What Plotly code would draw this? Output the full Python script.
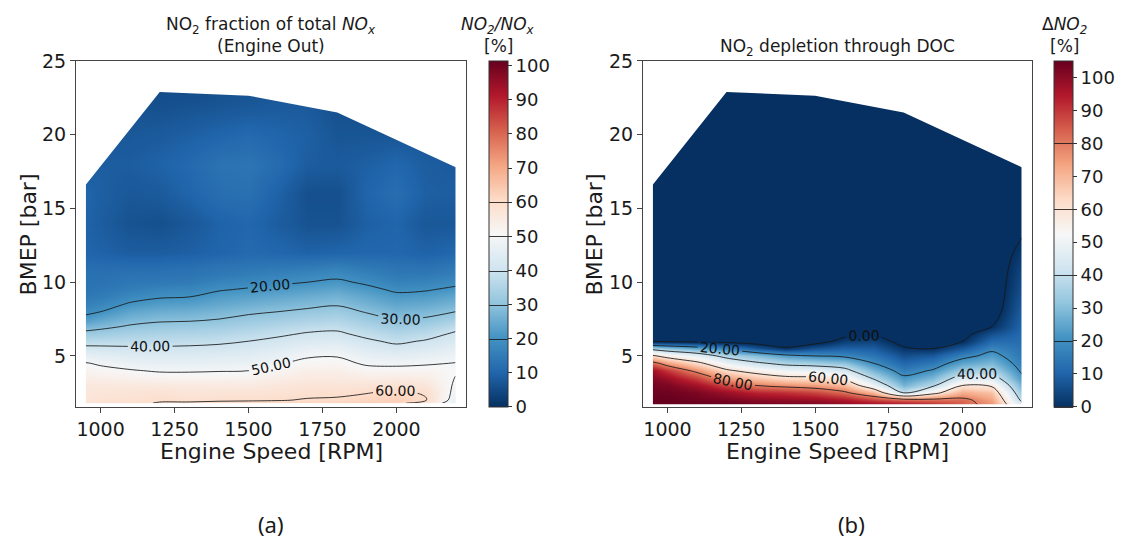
import plotly.graph_objects as go

# ---------------- data ----------------
# Engine speed columns [RPM] and BMEP rows [bar] of the measured map
rpm_a = [950, 1000, 1100, 1200, 1300, 1400, 1500, 1600, 1700, 1800, 1900, 2000, 2100, 2200]
bmep_a = [1.8, 2.0, 2.5, 3.0, 3.5, 4.0, 4.5, 5.0, 5.5, 6.0, 6.5, 7.0, 7.5, 8.0, 8.5,
          9.0, 9.5, 10.0, 10.5, 11.0, 12.0, 14.0, 16.0, 18.0, 20.0, 22.0, 23.0]

# NO2/NOx engine-out fraction [%], one list per engine speed (values along BMEP)
no2_frac = [
    [57, 57, 56.5, 56, 54.1, 52.2, 50.4, 46.4, 41.8, 37, 32, 27, 22, 18.5, 16, 14.4, 13.4, 13, 12.5, 12, 10, 9.5, 10, 8.5, 7.5, 7, 7],
    [58, 58, 57, 56, 53.9, 51.7, 49.2, 45.4, 41.5, 37.3, 32.7, 28.3, 24.2, 20, 17.5, 15, 14, 13, 12.5, 12, 9.5, 8.5, 9, 8.5, 7.5, 7, 7],
    [59, 58.5, 57.5, 56, 53.3, 50.5, 47.4, 44.2, 41, 37.6, 34.1, 30.7, 27.3, 24, 20.7, 18, 15.5, 14.2, 13, 12, 8.5, 6.5, 7.5, 8.5, 7.5, 6.5, 6],
    [60.3, 59.5, 58, 56, 52.7, 49.4, 46.6, 43.7, 40.9, 37.9, 34.8, 31.8, 28.8, 25.6, 22.5, 19.5, 17, 14.5, 13.2, 12, 8.5, 6, 8, 9.5, 8, 6, 5.5],
    [61, 58.5, 57, 55.5, 52.4, 49.4, 46.7, 43.9, 41.1, 38.2, 35.2, 32.1, 29.1, 26.1, 23, 20, 17.5, 15, 13.5, 12.5, 9, 7.5, 10, 11, 9, 6.5, 5.5],
    [61.5, 59.2, 57.5, 55.5, 52.6, 49.7, 47, 44.3, 41.6, 38.8, 35.9, 32.9, 30, 27.4, 24.7, 22.1, 19.5, 17, 14.5, 13.5, 10, 9.5, 12, 13, 10, 7, 6],
    [62, 59.3, 57.5, 55.5, 52.75, 50, 47.5, 45, 42.5, 40, 37.2, 34.4, 31.7, 28.9, 26.1, 23.3, 20.6, 18, 15.5, 14, 11, 10.5, 12.5, 13.5, 11, 7.5, 6.5],
    [62, 59.7, 58, 56.5, 54.2, 51.9, 49.5, 46.8, 44.2, 41.6, 38.8, 35.9, 32.9, 30, 27.2, 24.4, 21.7, 19, 16.5, 14.5, 10.5, 8.5, 9.5, 11.5, 10, 8, 7],
    [62.5, 60.4, 58.8, 57.5, 55.5, 53.6, 51.6, 49.4, 46.5, 43.5, 40.6, 37.5, 34.4, 31.3, 28.3, 25.6, 22.8, 20, 17.5, 15, 9.5, 6.5, 6, 8.5, 9, 8, 7],
    [62.5, 60.7, 59, 57.5, 55.6, 53.7, 51.7, 49.7, 46.9, 44, 41.1, 38.2, 35.3, 32.4, 29.4, 26.7, 23.9, 21.1, 18.5, 16, 10, 6.5, 6, 8, 7, 6, 6],
    [63, 61.8, 59.8, 57.5, 54.7, 51.9, 49.2, 46.5, 43.8, 41.1, 38.2, 35.3, 32.4, 29.5, 26.8, 24.2, 21.6, 19, 16.5, 14.5, 10.5, 9, 10, 9, 7, 6, 6],
    [62, 63, 61, 58.5, 55.2, 52, 48.7, 45.3, 42, 38.75, 35.6, 32.5, 29.5, 26.8, 24.2, 21.6, 19, 16.5, 14.5, 13.5, 10.5, 10, 12, 10.5, 7, 6, 6],
    [56, 60.3, 59.5, 57, 54.5, 52, 49.4, 46.5, 43.5, 40.6, 37.3, 34, 30.7, 27.8, 25, 22.2, 19.5, 17, 14.5, 13, 9.5, 7.5, 9, 8.5, 7.5, 7, 7],
    [45, 46.5, 48, 49, 49.8, 50.5, 50.2, 48.1, 45.7, 43.3, 41, 37.7, 33.8, 30, 27.1, 24.1, 21.2, 18.5, 16, 14.5, 10.5, 7.5, 8.5, 8, 7.5, 7, 7],
]

rpm_b = [950, 1000, 1100, 1200, 1300, 1400, 1500, 1600, 1700, 1800, 1900, 2000, 2100, 2200]
bmep_b = [1.7, 2.0, 2.5, 3.0, 3.5, 4.0, 4.5, 5.0, 5.5, 6.0, 6.5, 7.0, 8.0, 9.0, 10.0,
          11.0, 12.0, 13.0, 14.0, 16.0, 18.0, 20.0, 23.0]

# NO2 depletion across the DOC [%], one list per engine speed (values along BMEP)
no2_depl = [
    [105, 105, 104, 103, 101, 97, 84, 62, 36, -2, -5, -5, -5, -5, -5, -5, -5, -5, -5, -5, -5, -5, -5],
    [105, 105, 104, 102, 98, 90, 75, 55, 32, -2, -5, -5, -5, -5, -5, -5, -5, -5, -5, -5, -5, -5, -5],
    [105, 104, 102, 97, 89, 77, 63, 48, 26, -3, -5, -5, -5, -5, -5, -5, -5, -5, -5, -5, -5, -5, -5],
    [105, 103, 98, 88, 75, 62, 50, 36, 18, -4, -5, -5, -5, -5, -5, -5, -5, -5, -5, -5, -5, -5, -5],
    [104, 101, 93, 80, 68, 55, 42, 30, 8, -5, -5, -5, -5, -5, -5, -5, -5, -5, -5, -5, -5, -5, -5],
    [103, 100, 91, 77, 63, 50, 37, 23, 1, -5, -5, -5, -5, -5, -5, -5, -5, -5, -5, -5, -5, -5, -5],
    [102, 99, 88, 75, 62, 49, 35, 20, 7, -4, -5, -5, -5, -5, -5, -5, -5, -5, -5, -5, -5, -5, -5],
    [100, 96, 82, 70, 57, 44, 32, 18, 10, 3, -3, -5, -5, -5, -5, -5, -5, -5, -5, -5, -5, -5, -5],
    [98, 90, 70, 50, 38, 28, 20, 14, 9, 4, -1, -4, -5, -5, -5, -5, -5, -5, -5, -5, -5, -5, -5],
    [96, 86, 40, 28, 22, 16, 11, 6, 1, -3, -5, -5, -5, -5, -5, -5, -5, -5, -5, -5, -5, -5, -5],
    [92, 84, 56, 38, 29, 21, 15, 8, 0, -3, -5, -5, -5, -5, -5, -5, -5, -5, -5, -5, -5, -5, -5],
    [84, 83, 72, 60, 46, 34, 25, 17, 8, 0, -3, -5, -5, -5, -5, -5, -5, -5, -5, -5, -5, -5, -5],
    [76, 74, 68, 58, 46, 36, 29, 23, 18, 12, 6, 0, -4, -5, -5, -5, -5, -5, -5, -5, -5, -5, -5],
    [44, 38, 32, 27, 22, 18.5, 16, 14.5, 13.5, 12.5, 11.5, 10.5, 9, 7, 5.5, 4, 2, 0, -2, -5, -5, -5, -5],
]

# upper limit of the operating envelope (full-load BMEP per speed)
env_rpm = [950, 1200, 1500, 1800, 2200]
env_bmep_max = [16.6, 22.9, 22.65, 21.5, 17.8]

x_ticks = [1000, 1250, 1500, 1750, 2000]
y_ticks = [5, 10, 15, 20, 25]
cbar_ticks = [0, 10, 20, 30, 40, 50, 60, 70, 80, 90, 100]

# matplotlib RdBu_r
rdbu_r = [
    [0.0, "rgb(5,48,97)"], [0.1, "rgb(33,102,172)"], [0.2, "rgb(67,147,195)"],
    [0.3, "rgb(146,197,222)"], [0.4, "rgb(209,229,240)"], [0.5, "rgb(247,247,247)"],
    [0.6, "rgb(253,219,199)"], [0.7, "rgb(244,165,130)"], [0.8, "rgb(214,96,77)"],
    [0.9, "rgb(178,24,43)"], [1.0, "rgb(103,0,31)"],
]

W, H = 1128, 544
FONT = "DejaVu Sans"
INK = "#1a1a1a"


def px(x):
    return x / W


def py(y):
    return 1 - y / H


def colorbar(x_left):
    return dict(
        x=px(x_left), xanchor="left", xpad=0,
        y=py(227.5), yanchor="middle", ypad=0,
        len=353 / H, lenmode="fraction",
        thickness=19, thicknessmode="pixels",
        outlinewidth=1, outlinecolor="#333",
        tickmode="array", tickvals=cbar_ticks,
        ticks="outside", ticklen=4, tickcolor="#333",
        tickfont=dict(family=FONT, size=18, color=INK),
    )


fig = go.Figure()

# (a) engine-out NO2 fraction
fig.add_trace(go.Contour(
    x=rpm_a, y=bmep_a, z=no2_frac, transpose=True,
    colorscale=rdbu_r, zmin=0, zmax=101.4, zauto=False,
    contours=dict(coloring="heatmap", start=20, end=60, size=10,
                  showlabels=True, labelformat=".2f",
                  labelfont=dict(family=FONT, size=14, color="#111")),
    line=dict(color="rgba(25,25,25,0.85)", width=1, smoothing=1),
    colorbar=colorbar(489),
    xaxis="x", yaxis="y", hoverinfo="skip",
))

# (b) NO2 depletion through DOC
fig.add_trace(go.Contour(
    x=rpm_b, y=bmep_b, z=no2_depl, transpose=True,
    colorscale=rdbu_r, zmin=0, zmax=105, zauto=False,
    contours=dict(coloring="heatmap", start=0, end=80, size=20,
                  showlabels=True, labelformat=".2f",
                  labelfont=dict(family=FONT, size=14, color="#111")),
    line=dict(color="rgba(25,25,25,0.85)", width=1, smoothing=1),
    colorbar=colorbar(1054),
    xaxis="x2", yaxis="y2", hoverinfo="skip",
))

# blank out the area above the full-load line
mask_x = [env_rpm[0] - 25] + env_rpm + [env_rpm[-1] + 25, env_rpm[-1] + 25, env_rpm[0] - 25]
mask_y = [env_bmep_max[0]] + env_bmep_max + [env_bmep_max[-1], 24.6, 24.6]
for xa, ya in (("x", "y"), ("x2", "y2")):
    fig.add_trace(go.Scatter(
        x=mask_x, y=mask_y, mode="lines", fill="toself",
        fillcolor="white", line=dict(width=0, color="white"),
        xaxis=xa, yaxis=ya, showlegend=False, hoverinfo="skip",
    ))

axis_common = dict(
    showgrid=False, zeroline=False, showline=True, mirror=True,
    linecolor="#444", linewidth=1.2, ticks="outside", ticklen=5,
    tickwidth=1.2, tickcolor="#444",
    tickfont=dict(family=FONT, size=19, color=INK),
)
xa_dom = [px(76), px(466)]
xb_dom = [px(643), px(1032)]
y_dom = [py(404), py(51)]

fig.update_layout(
    width=W, height=H, margin=dict(l=0, r=0, t=0, b=0),
    paper_bgcolor="white", plot_bgcolor="white", showlegend=False,
    xaxis=dict(domain=xa_dom, range=[917, 2235], tickmode="array", tickvals=x_ticks,
               anchor="y", **axis_common),
    yaxis=dict(domain=y_dom, range=[1.55, 25], tickmode="array", tickvals=y_ticks,
               anchor="x", **axis_common),
    xaxis2=dict(domain=xb_dom, range=[917, 2235], tickmode="array", tickvals=x_ticks,
                anchor="y2", **axis_common),
    yaxis2=dict(domain=y_dom, range=[1.55, 25], tickmode="array", tickvals=y_ticks,
                anchor="x2", **axis_common),
)


def label(text, x, y, size, angle=0, family=FONT):
    fig.add_annotation(
        text=text, x=px(x), y=py(y), xref="paper", yref="paper",
        xanchor="center", yanchor="middle", showarrow=False, textangle=angle,
        font=dict(family=family, size=size, color=INK),
    )


# titles
label("NO<sub>2</sub> fraction of total <i>NO<sub>x</sub></i>", 271, 15, 17)
label("(Engine Out)", 271, 36, 17)
label("NO<sub>2</sub> depletion through DOC", 837, 37, 17)

# colorbar titles
label("<i>NO<sub>2</sub>/NO<sub>x</sub></i>", 498, 15, 17)
label("[%]", 498, 36, 17)
label("Δ<i>NO<sub>2</sub></i>", 1064, 15, 17)
label("[%]", 1064, 36, 17)

# axis titles
label("BMEP [bar]", 28, 228, 22, angle=-90)
label("BMEP [bar]", 594, 228, 22, angle=-90)
label("Engine Speed [RPM]", 271, 450, 22)
label("Engine Speed [RPM]", 837, 450, 22)

# panel captions
label("(a)", 271, 524, 22, family="Noto Sans")
label("(b)", 851, 524, 22, family="Noto Sans")

fig.write_html("out.html")
